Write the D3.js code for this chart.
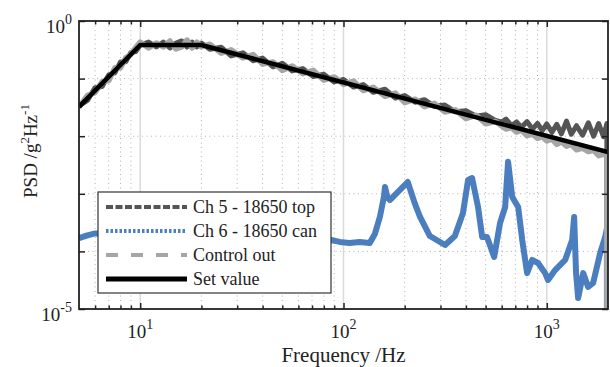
<!DOCTYPE html>
<html>
<head>
<meta charset="utf-8">
<script src="https://cdn.jsdelivr.net/npm/d3@7"></script>
<style>
  body { margin: 0; background: #fff; }
  text { font-family: "Liberation Serif", "Times New Roman", serif; fill: #222; }
</style>
</head>
<body>
<script>
"use strict"

// frequencies (Hz) for the two measured grey traces
var freqs = [5, 5.5, 6, 6.5, 7, 7.5, 8, 8.5, 9, 9.5, 10, 11, 12, 13, 14, 15, 16, 17, 18, 19, 20,
             22, 25, 28, 32, 36, 40, 45, 50, 56, 63, 71, 80, 90, 100, 112, 125, 140, 160, 180, 200,
             225, 250, 280, 315, 355, 400, 450, 500, 560, 600, 630, 670, 710, 750, 800, 850, 900,
             950, 1000, 1060, 1120, 1180, 1250, 1320, 1400, 1500, 1600, 1700, 1800, 1900, 1975, 1975];

var ch5Top = [0.0337, 0.0418, 0.0698, 0.0731, 0.116, 0.126, 0.195, 0.197, 0.284, 0.295, 0.383,
              0.43, 0.354, 0.43, 0.34, 0.415, 0.45, 0.354, 0.43, 0.354, 0.415,
              0.324, 0.35, 0.248, 0.28, 0.205, 0.227, 0.16, 0.184, 0.136, 0.149, 0.109, 0.119,
              0.0875, 0.0968, 0.0713, 0.0787, 0.058, 0.0653, 0.046, 0.0508,
              0.0389, 0.0431, 0.033, 0.0348, 0.0265, 0.0278, 0.0222, 0.0236, 0.0187, 0.0176,
              0.0198, 0.0153, 0.0177, 0.0143, 0.0179, 0.0133, 0.0167, 0.0125, 0.0163, 0.0117,
              0.0160, 0.0110, 0.0183, 0.0108, 0.0152, 0.0104, 0.0171, 0.0100, 0.0166, 0.0098,
              0.0165, 1e-6];

var controlOut = [0.032, 0.051, 0.0571, 0.0893, 0.0915, 0.154, 0.153, 0.232, 0.262, 0.347, 0.43,
                  0.34, 0.415, 0.354, 0.45, 0.326, 0.354, 0.467, 0.34, 0.43, 0.354,
                  0.396, 0.276, 0.316, 0.229, 0.261, 0.178, 0.195, 0.139, 0.166, 0.122, 0.139, 0.0938,
                  0.107, 0.0793, 0.0907, 0.0619, 0.0708, 0.0493, 0.0561, 0.0384,
                  0.0439, 0.0326, 0.0372, 0.0263, 0.0287, 0.0202, 0.0231, 0.0164, 0.018, 0.0150,
                  0.0133, 0.0141, 0.0118, 0.0127, 0.0102, 0.0109, 0.0092, 0.0098, 0.0083, 0.0089,
                  0.0072, 0.0080, 0.0067, 0.0072, 0.0058, 0.0062, 0.0054, 0.0057, 0.0046, 0.0049,
                  0.0046, 1e-6];

// Ch 6 (can) trace
var canFreqs = [5, 5.5, 6, 7, 8, 12, 20, 35, 60, 86.5, 95.9, 107, 120, 134.7, 142.6, 151, 158, 160,
                164, 169, 189, 207, 224, 238, 266, 316, 353, 387, 410, 429, 459, 481, 508, 551,
                589, 624, 645, 676, 723, 757, 800, 847, 906, 981, 1014, 1099, 1231, 1333, 1363,
                1393, 1426, 1510, 1597, 1690, 1831, 1937, 1975, 1975];
var ch6Can = [1.7e-4, 1.9e-4, 2.05e-4, 2.0e-4, 1.8e-4, 1.7e-4, 1.6e-4, 1.5e-4, 1.55e-4, 1.58e-4,
              1.46e-4, 1.40e-4, 1.45e-4, 1.40e-4, 2.0e-4, 3.96e-4, 8.8e-4, 1.31e-3,
              9e-4, 7.8e-4, 1.16e-3, 1.6e-3, 6.9e-4, 3.96e-4, 1.85e-4, 1.29e-4, 1.85e-4, 4.64e-4,
              1.74e-3, 1.88e-3, 5.9e-4, 1.78e-4, 1.78e-4, 8.0e-5, 3.11e-4, 5.9e-4, 3.6e-3, 8.8e-4,
              5.9e-4, 1.58e-4, 4.2e-5, 7.1e-5, 6.3e-5, 4.2e-5, 3.19e-5, 4.75e-5, 7.1e-5, 1.58e-4,
              3.96e-4, 4.2e-5, 1.55e-5, 4.2e-5, 2.41e-5, 2.83e-5, 9.4e-5, 1.78e-4, 2.5e-4, 1e-6];

// set value profile
var setFreqs = [5, 10, 20, 2000];
var setValue = [0.0324, 0.383, 0.383, 0.00532];

var xMajor = [10, 100, 1000];
var xMinor = [6, 7, 8, 9, 20, 30, 40, 50, 60, 70, 80, 90, 200, 300, 400, 500, 600, 700, 800, 900];
var yMajor = [1e-5, 1e-4, 1e-3, 1e-2, 1e-1, 1];
var yLabelled = [1e-5, 1];

var legendNames = ["Ch 5 - 18650 top", "Ch 6 - 18650 can", "Control out", "Set value"];

var W = 610, H = 367;
var pL = 79, pR = 608, pT = 21, pB = 309;

var svg = d3.select("body").append("svg")
    .attr("width", W)
    .attr("height", H);

var x = d3.scaleLog().domain([5, 2000]).range([pL, pR]);
var y = d3.scaleLog().domain([1e-5, 1]).range([pB, pT]);

svg.append("clipPath").attr("id", "plot")
  .append("rect")
    .attr("x", pL).attr("y", pT)
    .attr("width", pR - pL).attr("height", pB - pT);

// grid
var grid = svg.append("g");
grid.selectAll(".gxm").data(xMinor).enter().append("line")
    .attr("x1", d => x(d)).attr("x2", d => x(d))
    .attr("y1", pT).attr("y2", pB)
    .attr("stroke", "#b5b5b5").attr("stroke-width", 1)
    .attr("stroke-dasharray", "1,3.5");
grid.selectAll(".gy").data(yMajor.slice(1, 5)).enter().append("line")
    .attr("x1", pL).attr("x2", pR)
    .attr("y1", d => y(d)).attr("y2", d => y(d))
    .attr("stroke", "#b5b5b5").attr("stroke-width", 1)
    .attr("stroke-dasharray", "1,3.5");
grid.selectAll(".gx").data(xMajor).enter().append("line")
    .attr("x1", d => x(d)).attr("x2", d => x(d))
    .attr("y1", pT).attr("y2", pB)
    .attr("stroke", "#dadada").attr("stroke-width", 1.5);

// data lines
var line = d3.line().x(d => x(d[0])).y(d => y(d[1]));
var plot = svg.append("g").attr("clip-path", "url(#plot)");

function addTrace(fs, vs, color, width) {
  plot.append("path")
    .datum(fs.map((f, i) => [f, vs[i]]))
    .attr("d", line)
    .attr("fill", "none")
    .attr("stroke", color)
    .attr("stroke-width", width)
    .attr("stroke-linejoin", "round");
}

addTrace(freqs, ch5Top, "#555555", 5);
addTrace(canFreqs, ch6Can, "#4a7ebf", 6);
addTrace(freqs, controlOut, "#a6a6a6", 5.5);
addTrace(setFreqs, setValue, "#000000", 4.5);

// axes (ticks only, inward)
var noLabel = () => "";
function tickAxis(axis, values, size, ty) {
  var g = svg.append("g")
      .attr("transform", ty)
      .call(axis.tickValues(values).tickSizeInner(size).tickSizeOuter(0).tickFormat(noLabel));
  g.select(".domain").remove();
  g.selectAll("line").attr("stroke", "#222").attr("stroke-width", 1.5);
}
tickAxis(d3.axisBottom(x), xMajor, -6, "translate(0," + pB + ")");
tickAxis(d3.axisBottom(x), xMinor, -3.5, "translate(0," + pB + ")");
tickAxis(d3.axisTop(x), xMajor, -6, "translate(0," + pT + ")");
tickAxis(d3.axisTop(x), xMinor, -3.5, "translate(0," + pT + ")");
tickAxis(d3.axisLeft(y), yMajor, -6, "translate(" + pL + ",0)");
tickAxis(d3.axisRight(y), yMajor, -6, "translate(" + pR + ",0)");

// frame
svg.append("rect")
    .attr("x", pL).attr("y", pT)
    .attr("width", pR - pL).attr("height", pB - pT)
    .attr("fill", "none").attr("stroke", "#222").attr("stroke-width", 1.8);

// tick labels
function power(sel, exp) {
  sel.append("tspan").text("10");
  sel.append("tspan").attr("dy", -9).attr("font-size", 14).text(exp);
}
xMajor.forEach(function(d) {
  svg.append("text")
      .attr("x", x(d)).attr("y", pB + 29)
      .attr("text-anchor", "middle")
      .attr("font-size", 19)
      .call(power, String(Math.round(Math.log10(d))));
});
yLabelled.forEach(function(d) {
  svg.append("text")
      .attr("x", 72).attr("y", y(d) + 12)
      .attr("text-anchor", "end")
      .attr("font-size", 19)
      .call(power, String(Math.round(Math.log10(d))));
});

// axis titles
svg.append("text")
    .attr("x", (pL + pR) / 2).attr("y", 362)
    .attr("text-anchor", "middle")
    .attr("font-size", 21)
    .text("Frequency /Hz");

var yt = svg.append("text")
    .attr("transform", "translate(37,198) rotate(-90)")
    .attr("text-anchor", "start")
    .attr("font-size", 19);
yt.append("tspan").text("PSD /g");
yt.append("tspan").attr("dy", -8).attr("font-size", 13).text("2");
yt.append("tspan").attr("dy", 8).text("Hz");
yt.append("tspan").attr("dy", -8).attr("font-size", 13).text("-1");

// legend
var legStyles = [
  { color: "#555555", dash: "7,2.5", width: 4 },
  { color: "#4a7ebf", dash: "2.5,2", width: 4 },
  { color: "#a6a6a6", dash: "12,13", width: 4 },
  { color: "#000000", dash: null, width: 5 }
];
var leg = svg.append("g");
leg.append("rect")
    .attr("x", 98).attr("y", 192)
    .attr("width", 233).attr("height", 101)
    .attr("fill", "#fff").attr("stroke", "#333").attr("stroke-width", 1.2);
legendNames.forEach(function(name, i) {
  var ly = 207 + i * 24;
  leg.append("line")
      .attr("x1", 106).attr("x2", 187)
      .attr("y1", ly).attr("y2", ly)
      .attr("stroke", legStyles[i].color)
      .attr("stroke-width", legStyles[i].width)
      .attr("stroke-dasharray", legStyles[i].dash);
  leg.append("text")
      .attr("x", 193).attr("y", ly + 6)
      .attr("font-size", 18)
      .text(name);
});
</script>
</body>
</html>
